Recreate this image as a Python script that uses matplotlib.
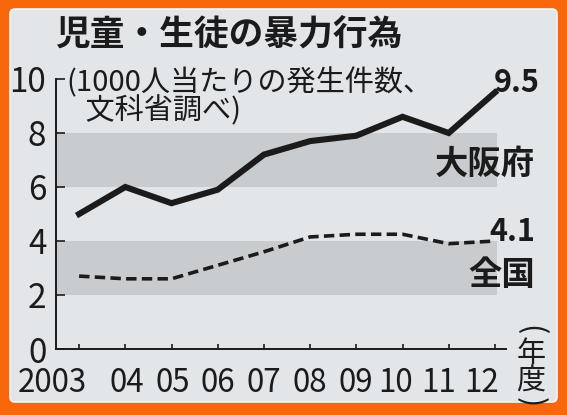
import matplotlib
matplotlib.use('Agg')
import matplotlib.pyplot as plt
from matplotlib.patches import FancyBboxPatch
from matplotlib.transforms import ScaledTranslation

# data
years = [2003, 2004, 2005, 2006, 2007, 2008, 2009, 2010, 2011, 2012]
year_labels = ['2003', '04', '05', '06', '07', '08', '09', '10', '11', '12']
osaka = [5.0, 6.0, 5.4, 5.9, 7.2, 7.7, 7.9, 8.6, 8.0, 9.5]
national = [2.7, 2.6, 2.6, 3.1, 3.6, 4.15, 4.25, 4.25, 3.9, 4.0]
y_ticks = [0, 2, 4, 6, 8, 10]
bands = [(2, 4), (6, 8)]

title = '児童・生徒の暴力行為'
subtitle = '(1000人当たりの発生件数、\n   文科省調べ)'
osaka_name = '大阪府'
national_name = '全国'
osaka_last = '9.5'
national_last = '4.1'

W, H = 567, 415
ORANGE = '#f8670b'
CARD = '#e2e6e9'
BAND = '#c9ccce'
INK = '#1b1b1b'

plt.rcParams['font.family'] = ['Noto Sans CJK JP', 'DejaVu Sans']
plt.rcParams['lines.scale_dashes'] = False


def fx(px):
    return px / W


def fy(py):
    return 1 - py / H


fig = plt.figure(figsize=(W / 100, H / 100), dpi=100, facecolor=ORANGE)

card = FancyBboxPatch((0.10, 0.13), 5.47, 3.93,
                      boxstyle='round,pad=0,rounding_size=0.05',
                      transform=fig.dpi_scale_trans,
                      facecolor=CARD, edgecolor='#f4f4f4', linewidth=1.2, zorder=-5)
fig.patches.append(card)

ax = fig.add_axes([fx(56), fy(349), (506 - 56) / W, (349 - 79) / H])
ax.set_zorder(2)
ax.set_facecolor('none')
ax.set_xlim(2002.5, 2012.24)
ax.set_ylim(0, 10)

for lo, hi in bands:
    ax.axhspan(lo, hi, xmin=0, xmax=0.98, color=BAND, lw=0, zorder=0)

ax.plot(years, osaka, color=INK, lw=4.4, solid_joinstyle='miter', zorder=3, clip_on=False)
ax.plot(years, national, color=INK, lw=2.6, linestyle=(0, (7.5, 3.8)), zorder=3)

for s in ['top', 'right']:
    ax.spines[s].set_visible(False)
for s in ['left', 'bottom']:
    ax.spines[s].set_linewidth(1.4)
    ax.spines[s].set_color(INK)

ax.set_yticks(y_ticks)
ax.set_yticklabels([str(v) for v in y_ticks])
ax.set_xticks(years)
ax.set_xticklabels(year_labels)
ax.tick_params(axis='y', direction='in', length=6.5, width=1.2, color=INK,
               labelsize=24, pad=7, labelcolor=INK)
ax.tick_params(axis='x', direction='in', length=3.6, width=1.2, color=INK,
               labelsize=22.5, pad=13, labelcolor=INK)

# the printed labels are squeezed a little at both ends
x_shift = [-27, 2, 1, 0, 0, 0, 0, -7, -10, -13]
for lab, dx in zip(ax.get_xticklabels(), x_shift):
    lab.set_transform(lab.get_transform() + ScaledTranslation(dx / 100, 0, fig.dpi_scale_trans))

fig.text(fx(55), fy(35), title, fontsize=25, fontweight='bold', color=INK, va='center', ha='left')
fig.text(fx(66), fy(97), subtitle, fontsize=21, color=INK, va='center', ha='left',
         linespacing=0.9)

fig.text(fx(517), fy(83), osaka_last, fontsize=22, fontweight='bold', color=INK, va='center', ha='center')
fig.text(fx(485), fy(164), osaka_name, fontsize=24, fontweight='bold', color=INK, va='center', ha='center')
fig.text(fx(512), fy(232), national_last, fontsize=22, fontweight='bold', color=INK, va='center', ha='center')
fig.text(fx(502), fy(275), national_name, fontsize=24, fontweight='bold', color=INK, va='center', ha='center')

# vertical (年度) unit label
fig.text(fx(530), fy(330), '(', fontsize=22, color=INK, rotation=-90, va='center', ha='center')
fig.text(fx(531), fy(354), '年', fontsize=21, color=INK, va='center', ha='center')
fig.text(fx(531), fy(382), '度', fontsize=21, color=INK, va='center', ha='center')
fig.text(fx(530), fy(402), ')', fontsize=22, color=INK, rotation=-90, va='center', ha='center')

fig.savefig('out.png', dpi=100, facecolor=ORANGE)
